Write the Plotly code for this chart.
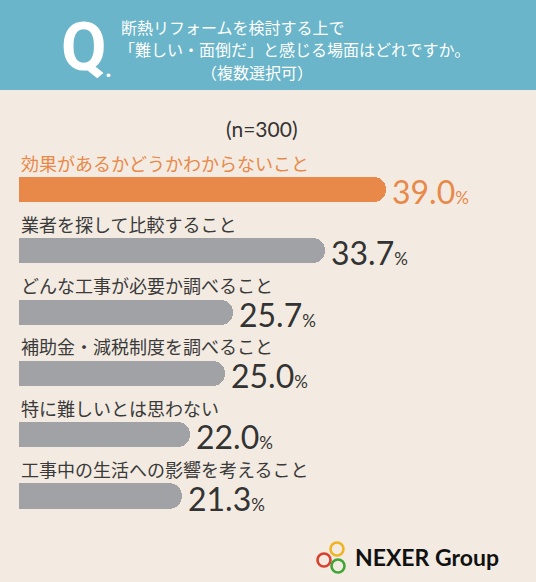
import plotly.graph_objects as go

# survey answers (n=300), multiple choice
labels = [
    "効果があるかどうかわからないこと",
    "業者を探して比較すること",
    "どんな工事が必要か調べること",
    "補助金・減税制度を調べること",
    "特に難しいとは思わない",
    "工事中の生活への影響を考えること",
]
values = [39.0, 33.7, 25.7, 25.0, 22.0, 21.3]

W, H = 536, 582
ML, MR, MT, MB = 19, 19, 159, 44
BG = "#f3ebe1"
TEAL = "#6ab5c9"
ORANGE = "#e8894a"
GREY = "#a0a2a6"
DARK = "#333333"
JP = "Noto Sans CJK JP"


def px(x):
    return (x - ML) / (W - ML - MR)


def py(y):
    return (H - MB - y) / (H - MT - MB)


colors = [ORANGE] + [GREY] * (len(values) - 1)

fig = go.Figure(go.Bar(
    x=values,
    y=labels,
    orientation="h",
    width=0.41,
    marker=dict(color=colors, cornerradius=13, line=dict(width=0)),
    hoverinfo="skip",
))

ann = []
for i, (lab, v) in enumerate(zip(labels, values)):
    col = ORANGE if i == 0 else DARK
    # category label above the bar
    ann.append(dict(
        x=0, xref="paper", y=lab, yref="y", yshift=27,
        text=lab, showarrow=False, xanchor="left", yanchor="middle",
        font=dict(family=JP, size=18, color=ORANGE if i == 0 else "#3a3a3a"),
    ))
    # value label right of the bar
    ann.append(dict(
        x=v, y=lab, xref="x", yref="y", xshift=4, yshift=-2,
        text=f"{v:.1f}<span style='font-size:17px'>%</span>",
        showarrow=False, xanchor="left", yanchor="middle",
        font=dict(family="Lato", size=32, color=col),
    ))

# header
ann.append(dict(x=px(84), y=py(48), xref="paper", yref="paper", text="<b>Q</b>",
                showarrow=False, xanchor="center", yanchor="middle",
                font=dict(family="Roboto", size=66, color="white")))
ann.append(dict(x=px(108), y=py(69), xref="paper", yref="paper", text="<b>.</b>",
                showarrow=False, xanchor="center", yanchor="middle",
                font=dict(family="Roboto", size=24, color="white")))
ann.append(dict(x=px(119), y=py(27), xref="paper", yref="paper",
                text="断熱リフォームを検討する上で",
                showarrow=False, xanchor="left", yanchor="middle",
                font=dict(family=JP, size=16, color="white")))
ann.append(dict(x=px(117), y=py(49), xref="paper", yref="paper",
                text="「難しい・面倒だ」と感じる場面はどれですか。",
                showarrow=False, xanchor="left", yanchor="middle",
                font=dict(family=JP, size=16, color="white")))
ann.append(dict(x=px(257), y=py(72), xref="paper", yref="paper",
                text="（複数選択可）",
                showarrow=False, xanchor="center", yanchor="middle",
                font=dict(family=JP, size=16, color="white")))
ann.append(dict(x=px(261), y=py(128), xref="paper", yref="paper",
                text="(n=300)",
                showarrow=False, xanchor="center", yanchor="middle",
                font=dict(family="Lato", size=21, color=DARK)))
# logo text
ann.append(dict(x=px(353), y=py(557), xref="paper", yref="paper",
                text="<b>NEXER Group</b>",
                showarrow=False, xanchor="left", yanchor="middle",
                font=dict(family="Lato", size=23, color="#111111")))

shapes = [dict(type="rect", xref="paper", yref="paper",
               x0=px(0), x1=px(W), y0=py(90), y1=py(0),
               fillcolor=TEAL, line=dict(width=0), layer="below")]
for cx, cy, c in [(337, 549, "#f0b323"), (324, 560, "#d9402f"), (338, 566, "#3fa535")]:
    r = 6.5
    shapes.append(dict(type="circle", xref="paper", yref="paper",
                       x0=px(cx - r), x1=px(cx + r), y0=py(cy + r), y1=py(cy - r),
                       line=dict(color=c, width=2.6)))

fig.update_layout(
    width=W, height=H,
    margin=dict(l=ML, r=MR, t=MT, b=MB),
    paper_bgcolor=BG, plot_bgcolor=BG,
    showlegend=False,
    bargap=0,
    xaxis=dict(range=[7.18, 50.3], visible=False, fixedrange=True),
    yaxis=dict(autorange="reversed", visible=False, fixedrange=True),
    annotations=ann,
    shapes=shapes,
)

# page has an 8px body margin by default
fig.write_html("out.html", config={"displayModeBar": False},
               post_script="document.body.style.margin='0';")
